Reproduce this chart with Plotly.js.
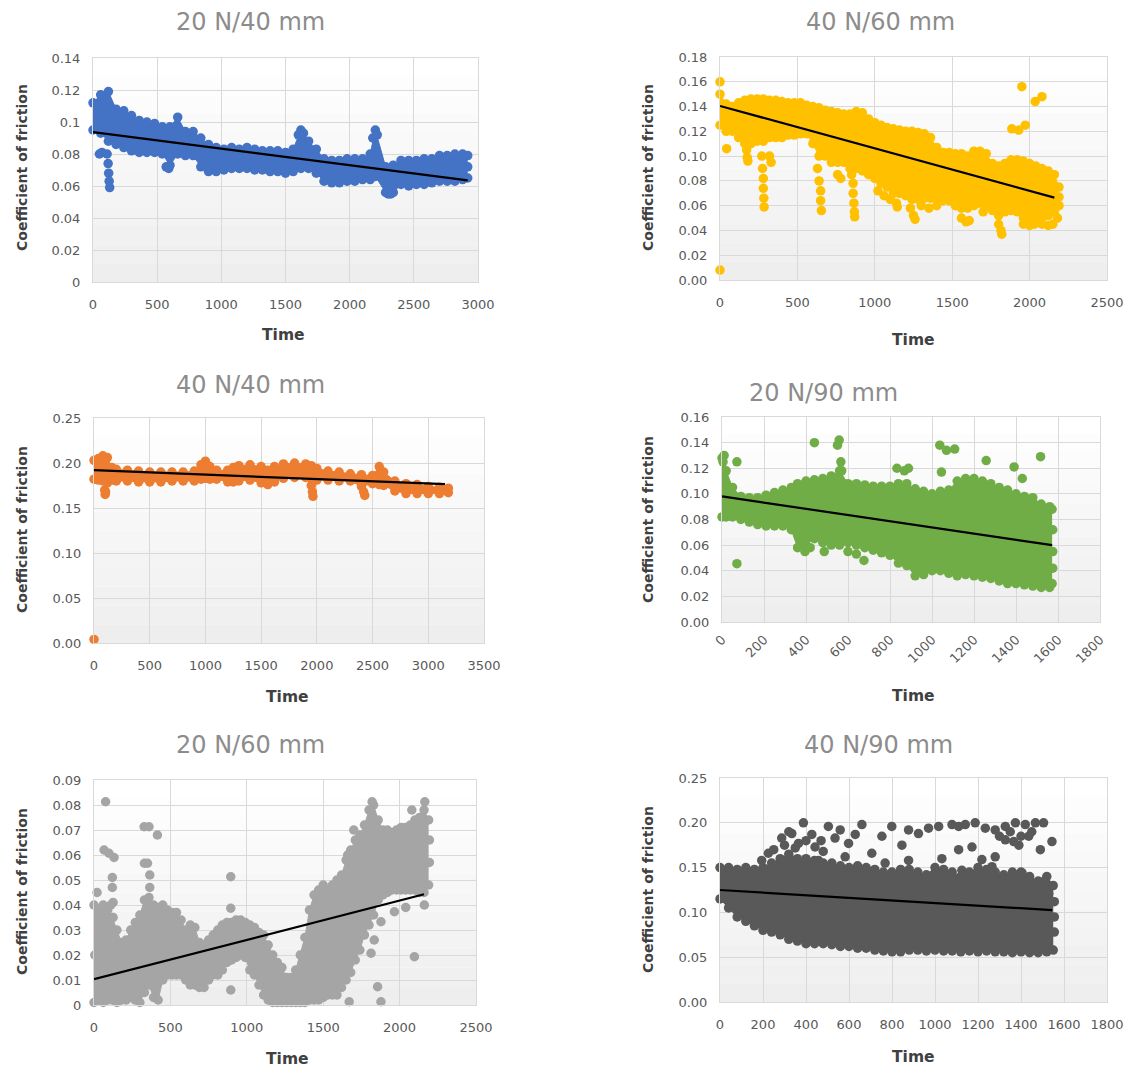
<!DOCTYPE html>
<html><head><meta charset="utf-8">
<script src="https://cdn.plot.ly/plotly-3.0.1.min.js"></script>
<style>html,body{margin:0;padding:0;background:#fff}</style>
</head><body><div id="chart" style="width:1133px;height:1067px"></div>
<script>
// ---------- 20 N/40 mm ----------
const p1Time = [0,60,120,180,240,300,360,420,480,540,600,660,720,780,840,900,960,1020,1080,1140,1200,1260,1320,1380,1440,1500,1560,1620,1680,1740,1800,1860,1920,1980,2040,2100,2160,2200,2280,2340,2400,2460,2520,2580,2640,2700,2760,2820,2880,2920];
const p1High = [.112,.117,.119,.108,.107,.104,.101,.100,.099,.097,.097,.103,.094,.094,.090,.086,.084,.083,.084,.083,.084,.083,.082,.082,.082,.081,.083,.095,.088,.083,.077,.076,.076,.077,.077,.077,.080,.095,.072,.073,.076,.076,.076,.077,.077,.079,.079,.080,.080,.079];
const p1Low = [.095,.093,.088,.086,.084,.082,.081,.081,.081,.080,.073,.080,.079,.079,.072,.069,.069,.070,.071,.071,.071,.070,.070,.069,.069,.068,.069,.071,.071,.068,.063,.062,.062,.063,.063,.064,.064,.066,.056,.056,.061,.060,.061,.061,.062,.063,.063,.063,.064,.065];
const p1ExtraTime = [50,70,110,118,122,126,130,570,590,1600,1640,2180,2215,2300,2320,2920];
const p1ExtraCof = [.080,.081,.080,.074,.068,.063,.059,.072,.071,.092,.093,.090,.092,.055,.055,.072];
const p1TrendTime = [0,2920];
const p1TrendCof = [0.0937,0.0635];

// ---------- 40 N/60 mm ----------
const p2Time = [0,40,80,120,160,200,240,280,320,360,400,440,480,520,560,600,640,680,720,760,800,840,880,920,960,1000,1040,1080,1120,1160,1200,1240,1280,1320,1360,1400,1440,1480,1520,1560,1600,1640,1680,1720,1760,1800,1840,1880,1920,1960,2000,2040,2080,2120,2160,2190];
const p2High = [.150,.142,.140,.143,.145,.146,.146,.146,.145,.145,.144,.143,.143,.143,.141,.140,.139,.137,.136,.135,.134,.134,.136,.135,.130,.127,.125,.123,.122,.121,.120,.120,.119,.118,.115,.107,.103,.103,.102,.102,.100,.104,.104,.102,.094,.092,.094,.097,.097,.096,.094,.092,.090,.088,.085,.075];
const p2Low = [.125,.120,.120,.115,.110,.110,.112,.112,.115,.115,.115,.117,.117,.118,.118,.110,.100,.100,.095,.095,.095,.090,.090,.088,.085,.082,.078,.075,.070,.070,.068,.065,.065,.066,.066,.066,.064,.064,.060,.058,.058,.060,.062,.060,.056,.052,.055,.056,.055,.050,.050,.050,.050,.052,.055,.060];
const p2ExtraTime = [0,0,43,172,176,180,270,275,280,280,283,285,320,330,630,640,650,650,655,760,780,850,860,860,865,868,870,1020,1060,1100,1140,1145,1230,1250,1260,1300,1350,1400,1560,1590,1610,1700,1800,1815,1820,1960,2000,2030,2080,2120,2150,2180,1950,2036,2080,1885,1930,1972,2190];
const p2ExtraCof = [.160,.008,.106,.105,.099,.096,.100,.090,.082,.074,.066,.059,.100,.095,.090,.080,.072,.064,.056,.085,.082,.085,.078,.070,.062,.055,.051,.072,.068,.065,.062,.059,.058,.052,.049,.060,.058,.060,.050,.047,.048,.055,.045,.040,.037,.045,.044,.045,.045,.044,.045,.050,.156,.144,.148,.122,.121,.125,.067];
const p2TrendTime = [0,2160];
const p2TrendCof = [0.1405,0.0665];

// ---------- 40 N/40 mm ----------
const p3Time = [0,40,80,120,160,200,300,400,500,600,700,800,900,960,1000,1040,1100,1200,1250,1300,1400,1500,1560,1620,1700,1800,1900,1950,2000,2100,2200,2300,2400,2500,2560,2600,2700,2800,2900,3000,3100,3180];
const p3High = [.203,.205,.208,.206,.195,.193,.192,.191,.190,.190,.190,.190,.191,.198,.202,.196,.192,.192,.195,.197,.198,.196,.192,.196,.199,.200,.199,.197,.194,.191,.190,.188,.187,.186,.196,.190,.180,.177,.176,.174,.173,.172];
const p3Low = [.182,.181,.180,.178,.181,.180,.180,.179,.179,.179,.180,.180,.180,.182,.183,.182,.182,.179,.179,.180,.181,.178,.176,.179,.183,.184,.184,.175,.181,.181,.180,.180,.174,.177,.176,.175,.169,.166,.166,.166,.166,.167];
const p3ExtraTime = [0,96,100,104,1960,1965,2420,2430];
const p3ExtraCof = [.004,.170,.165,.168,.168,.163,.168,.164];
const p3TrendTime = [0,3150];
const p3TrendCof = [0.192,0.1765];

// ---------- 20 N/90 mm ----------
const p4Time = [0,20,50,90,130,170,210,250,290,330,360,400,440,480,520,560,600,640,680,720,760,800,840,880,920,960,1000,1040,1080,1120,1160,1200,1240,1280,1320,1360,1400,1440,1480,1520,1560,1572];
const p4High = [.128,.118,.105,.098,.097,.097,.099,.101,.103,.105,.108,.110,.111,.112,.114,.118,.108,.108,.107,.106,.106,.106,.108,.108,.104,.102,.100,.102,.103,.110,.112,.112,.110,.108,.105,.103,.100,.098,.097,.092,.090,.088];
const p4Low = [.082,.082,.082,.080,.078,.076,.075,.075,.075,.072,.058,.060,.065,.062,.060,.060,.062,.060,.058,.056,.054,.052,.046,.044,.036,.037,.040,.040,.038,.036,.037,.036,.035,.034,.032,.030,.030,.029,.028,.027,.027,.030];
const p4ExtraTime = [71,71,440,487,550,558,566,570,676,833,868,888,1037,1045,1069,1108,1258,1391,1430,1517,395,420,600,640,10,5,1575,1575,1575];
const p4ExtraCof = [.125,.0455,.140,.055,.138,.142,.125,.118,.048,.120,.118,.120,.138,.117,.134,.135,.126,.121,.112,.129,.055,.058,.055,.053,.130,.125,.072,.055,.042];
const p4TrendTime = [0,1572];
const p4TrendCof = [0.098,0.060];

// ---------- 20 N/60 mm ----------
const p5Time = [0,30,60,90,120,150,180,210,240,270,300,330,360,390,420,450,480,510,540,570,600,630,660,690,720,750,780,810,840,870,900,930,960,990,1020,1050,1080,1110,1140,1170,1200,1230,1260,1290,1320,1350,1380,1410,1440,1470,1500,1530,1560,1590,1620,1650,1680,1710,1740,1770,1800,1830,1860,1890,1920,1950,1980,2010,2040,2070,2100,2130,2160,2190];
const p5High = [.040,.038,.040,.038,.035,.030,.025,.026,.030,.033,.036,.042,.043,.040,.039,.040,.038,.037,.037,.034,.030,.032,.031,.025,.024,.026,.028,.030,.032,.033,.033,.034,.034,.033,.032,.031,.029,.028,.024,.020,.017,.015,.011,.011,.014,.020,.027,.038,.044,.046,.048,.046,.048,.050,.052,.058,.062,.066,.068,.072,.078,.080,.074,.070,.070,.069,.070,.071,.071,.072,.074,.075,.078,.074];
const p5Low = [.001,.002,.001,.002,.002,.001,.002,.002,.003,.002,.001,.005,.008,.003,.002,.010,.012,.012,.012,.012,.010,.008,.008,.007,.007,.010,.012,.012,.014,.017,.018,.019,.020,.019,.014,.012,.008,.004,.002,.001,.001,.001,.001,.001,.001,.001,.001,.002,.002,.002,.003,.004,.004,.004,.007,.010,.013,.018,.022,.028,.032,.036,.042,.044,.045,.046,.046,.046,.046,.046,.046,.045,.045,.048];
const p5ExtraTime = [20,76,66,98,131,120,120,125,328,360,415,330,350,365,365,895,895,895,1670,1813,1834,1856,1878,1878,1966,2097,2162,2040,2165,1820,1700,1660,2080,5,110,125,2195,2195];
const p5ExtraCof = [.045,.0813,.062,.0607,.059,.051,.047,.041,.0713,.0713,.068,.0567,.0567,.052,.047,.0513,.0387,.006,.0013,.0207,.026,.0073,.0013,.0333,.0373,.0193,.040,.039,.0813,.0813,.070,.060,.078,.020,.040,.035,.066,.057];
const p5TrendTime = [0,2160];
const p5TrendCof = [0.0103,0.0443];

// ---------- 40 N/90 mm ----------
const p6Time = [0,40,80,120,160,200,240,280,320,360,400,440,480,520,560,600,640,680,720,760,800,840,880,920,960,1000,1040,1080,1120,1160,1200,1240,1280,1320,1360,1400,1440,1480,1520,1550];
const p6High = [.150,.150,.148,.150,.148,.150,.155,.160,.165,.160,.160,.158,.155,.155,.152,.150,.152,.150,.148,.145,.145,.148,.148,.145,.142,.150,.148,.145,.140,.145,.150,.148,.145,.142,.145,.145,.140,.135,.140,.130];
const p6Low = [.115,.105,.095,.090,.085,.080,.078,.075,.070,.068,.065,.065,.065,.064,.062,.062,.060,.060,.058,.057,.056,.056,.058,.058,.057,.058,.057,.057,.056,.057,.056,.057,.056,.056,.055,.056,.055,.055,.056,.058];
const p6ExtraTime = [287,334,388,365,427,442,504,535,559,598,660,629,706,753,799,846,877,923,970,1017,1079,1110,1141,1187,1234,1280,1327,1374,1420,1467,1505,1544,1110,1172,1280,1327,1366,1436,1490,1032,1218,1265,1125,1405,1513,1529,225,194,458,582,768,877,300,350,400,470,480,250,320,1300,1350,1400,1450,1390,1555,1555,1555];
const p6ExtraCof = [.183,.188,.200,.177,.187,.173,.196,.183,.192,.177,.198,.187,.166,.185,.196,.175,.192,.188,.194,.196,.198,.196,.198,.200,.194,.192,.196,.200,.198,.200,.200,.179,.170,.173,.162,.181,.179,.185,.170,.160,.159,.151,.147,.144,.136,.121,.166,.158,.158,.162,.155,.158,.175,.172,.180,.180,.168,.170,.190,.185,.190,.185,.190,.175,.112,.095,.078];
const p6TrendTime = [0,1545];
const p6TrendCof = [0.125,0.1025];

const W = 1133, H = 1067;
const panels = [
  {title:'20 N/40 mm', t:p1Time, hi:p1High, lo:p1Low, et:p1ExtraTime, ec:p1ExtraCof, tt:p1TrendTime, tc:p1TrendCof,
   color:'#4472C4', px:[93,478], py:[58,282], xr:[0,3000], xd:500, yr:[0,0.14], yd:0.02, yf:'', xa:0,
   titleXY:[250,22], timeXY:[283,335], cofXY:[22,168]},
  {title:'40 N/60 mm', t:p2Time, hi:p2High, lo:p2Low, et:p2ExtraTime, ec:p2ExtraCof, tt:p2TrendTime, tc:p2TrendCof,
   color:'#FFC000', px:[720,1107], py:[57,280], xr:[0,2500], xd:500, yr:[0,0.18], yd:0.02, yf:'.2f', xa:0,
   titleXY:[880,22], timeXY:[913,340], cofXY:[648,168]},
  {title:'40 N/40 mm', t:p3Time, hi:p3High, lo:p3Low, et:p3ExtraTime, ec:p3ExtraCof, tt:p3TrendTime, tc:p3TrendCof,
   color:'#ED7D31', px:[94,484], py:[418,643], xr:[0,3500], xd:500, yr:[0,0.25], yd:0.05, yf:'.2f', xa:0,
   titleXY:[250,385], timeXY:[287,697], cofXY:[22,530]},
  {title:'20 N/90 mm', t:p4Time, hi:p4High, lo:p4Low, et:p4ExtraTime, ec:p4ExtraCof, tt:p4TrendTime, tc:p4TrendCof,
   color:'#70AD47', px:[722,1100], py:[417,622], xr:[0,1800], xd:200, yr:[0,0.16], yd:0.02, yf:'.2f', xa:-45,
   titleXY:[823,393], timeXY:[913,696], cofXY:[648,520]},
  {title:'20 N/60 mm', t:p5Time, hi:p5High, lo:p5Low, et:p5ExtraTime, ec:p5ExtraCof, tt:p5TrendTime, tc:p5TrendCof,
   color:'#A5A5A5', px:[94,476], py:[780,1005], xr:[0,2500], xd:500, yr:[0,0.09], yd:0.01, yf:'', xa:0,
   titleXY:[250,745], timeXY:[287,1059], cofXY:[22,892]},
  {title:'40 N/90 mm', t:p6Time, hi:p6High, lo:p6Low, et:p6ExtraTime, ec:p6ExtraCof, tt:p6TrendTime, tc:p6TrendCof,
   color:'#595959', px:[720,1107], py:[778,1002], xr:[0,1800], xd:200, yr:[0,0.25], yd:0.05, yf:'.2f', xa:0,
   titleXY:[878,745], timeXY:[913,1057], cofXY:[648,890]}
];

const data = [];
const layout = {
  width: W, height: H, margin:{l:0,r:0,t:0,b:0},
  paper_bgcolor:'#ffffff', plot_bgcolor:'#ffffff', showlegend:false,
  shapes:[], annotations:[]
};
const tickFont = {family:'DejaVu Sans', size:13, color:'#595959'};
const MS = 9.5;

panels.forEach((p, i) => {
  const k = i + 1;
  const xn = k === 1 ? 'x' : 'x' + k;
  const yn = k === 1 ? 'y' : 'y' + k;
  const common = {showgrid:true, gridcolor:'#d9d9d9', gridwidth:1, zeroline:false,
    showline:true, mirror:true, linecolor:'#d9d9d9', linewidth:1, ticks:'',
    tickfont:tickFont, tickmode:'linear', tick0:0, fixedrange:true};
  layout['xaxis' + (k === 1 ? '' : k)] = Object.assign({}, common, {
    domain:[p.px[0]/W, p.px[1]/W], range:p.xr, dtick:p.xd, anchor:yn,
    tickangle:p.xa, ticklabelstandoff: p.xa ? 4 : 10});
  layout['yaxis' + (k === 1 ? '' : k)] = Object.assign({}, common, {
    domain:[1 - p.py[1]/H, 1 - p.py[0]/H], range:p.yr, dtick:p.yd, anchor:xn,
    tickformat:p.yf, ticklabelstandoff:9});

  // soft gradient background of the plot area
  for (let b = 0; b < 12; b++) {
    const lvl = Math.round(238 + 17 * b / 11);
    layout.shapes.push({type:'rect', xref:xn + ' domain', yref:yn + ' domain',
      x0:0, x1:1, y0:b/12, y1:(b+1)/12, layer:'below', line:{width:0},
      fillcolor:`rgb(${lvl},${lvl},${lvl})`});
  }

  const mk = {color:p.color, size:MS, line:{width:0}};
  // dense core of the cloud: area between upper and lower edges
  data.push({type:'scatter', mode:'lines', x:p.t, y:p.hi, xaxis:xn, yaxis:yn,
    line:{color:p.color, width:1}, hoverinfo:'skip'});
  data.push({type:'scatter', mode:'lines', x:p.t, y:p.lo, xaxis:xn, yaxis:yn,
    line:{color:p.color, width:1}, fill:'tonexty', fillcolor:p.color, hoverinfo:'skip'});
  // edge points and isolated points
  data.push({type:'scatter', mode:'markers', x:p.t, y:p.hi, xaxis:xn, yaxis:yn, marker:mk, cliponaxis:false, hoverinfo:'skip'});
  data.push({type:'scatter', mode:'markers', x:p.t, y:p.lo, xaxis:xn, yaxis:yn, marker:mk, cliponaxis:false, hoverinfo:'skip'});
  data.push({type:'scatter', mode:'markers', x:p.et, y:p.ec, xaxis:xn, yaxis:yn, marker:mk, cliponaxis:false, hoverinfo:'skip'});
  data.push({type:'scatter', mode:'lines', x:p.tt, y:p.tc, xaxis:xn, yaxis:yn, line:{color:'#000000', width:2.2}, hoverinfo:'skip'});

  layout.annotations.push({xref:'paper', yref:'paper', x:p.titleXY[0]/W, y:1 - p.titleXY[1]/H,
    text:p.title, showarrow:false, xanchor:'center', yanchor:'middle',
    font:{family:'DejaVu Sans', size:24, color:'#8c8c8c'}});
  layout.annotations.push({xref:'paper', yref:'paper', x:p.timeXY[0]/W, y:1 - p.timeXY[1]/H,
    text:'<b>Time</b>', showarrow:false, xanchor:'center', yanchor:'middle',
    font:{family:'DejaVu Sans', size:15.5, color:'#404040'}});
  layout.annotations.push({xref:'paper', yref:'paper', x:p.cofXY[0]/W, y:1 - p.cofXY[1]/H,
    text:'<b>Coefficient of friction</b>', showarrow:false, textangle:-90, xanchor:'center', yanchor:'middle',
    font:{family:'DejaVu Sans', size:14, color:'#404040'}});
});

Plotly.newPlot('chart', data, layout, {staticPlot:true, displayModeBar:false});
</script>
</body></html>
